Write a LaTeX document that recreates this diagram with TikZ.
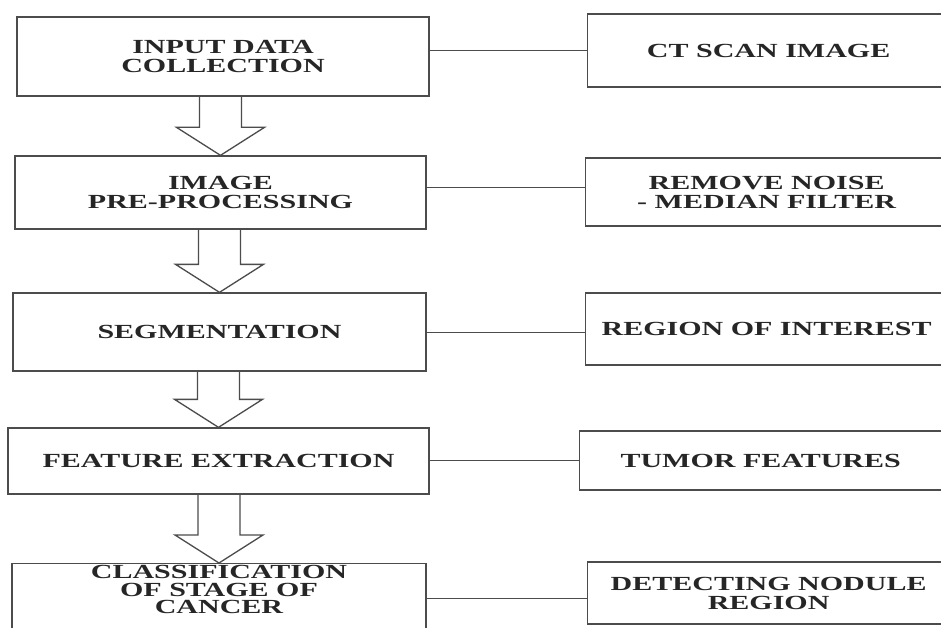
\documentclass[tikz,border=0pt]{standalone}
\usepackage{fontspec}
\newfontfamily\flowfont{Liberation Serif}[FakeStretch=1.5]
\usetikzlibrary{calc}

% hollow block arrow from one box down to the next
\newcommand{\flowarrow}[2]{%
  \draw[hollow] ($(#1.south -| #2.north)+(-21,0)$) -- ($(#2.north)+(-21,-28)$)
    -- ($(#2.north)+(-44,-28)$) -- (#2.north) -- ($(#2.north)+(44,-28)$)
    -- ($(#2.north)+(21,-28)$) -- ($(#1.south -| #2.north)+(21,0)$);}

\begin{document}
\begin{tikzpicture}
	[x=1pt, y=-1pt, line width=1.3pt,
	 stepbox/.style = {draw=black!70, text=black!85, align=center, inner sep=0pt,
	   font=\flowfont\bfseries\fontsize{20}{19}\selectfont},
	 sidebox/.style = {stepbox, anchor=west, minimum width=362pt},
	 hollow/.style = {draw=black!70, line join=miter},
	 link/.style = {draw=black!70, line width=1pt}]
	\clip (0,0) rectangle (941,628);
	\fill[white] (0,0) rectangle (941,628);
	% main steps
	\node[stepbox, minimum width=412pt, minimum height=79pt] (input) at (223,56.5) {INPUT DATA\\COLLECTION};
	\node[stepbox, minimum width=411pt, minimum height=73pt] (pre) at (220.5,192.5) {IMAGE\\PRE-PROCESSING};
	\node[stepbox, minimum width=413pt, minimum height=78pt] (seg) at (219.5,332) {SEGMENTATION};
	\node[stepbox, minimum width=421pt, minimum height=66pt] (feat) at (218.5,461) {FEATURE EXTRACTION};
	\node[stepbox, minimum width=414pt, text height=50pt, text depth=40pt, anchor=north,
	  font=\flowfont\bfseries\fontsize{20}{17.5}\selectfont] (cls) at (219,563) {CLASSIFICATION\\OF STAGE OF\\CANCER};
	% side notes
	\node[sidebox, minimum height=73pt] (ct) at (587,50.5) {CT SCAN IMAGE};
	\node[sidebox, minimum height=68pt] (noise) at (585,192) {REMOVE NOISE\\- MEDIAN FILTER};
	\node[sidebox, minimum height=72pt] (roi) at (585,329) {REGION OF INTEREST};
	\node[sidebox, minimum height=59pt] (tumor) at (579,460.5) {TUMOR FEATURES};
	\node[sidebox, minimum height=62pt] (nodule) at (587,593) {DETECTING NODULE\\REGION};
	\draw[link] (input.east |- ct) -- (ct.west);
	\draw[link] ([yshift=4pt]pre.east |- noise) -- ([yshift=4pt]noise.west);
	\draw[link] ([yshift=-3pt]seg.east |- roi) -- ([yshift=-3pt]roi.west);
	\draw[link] (feat.east |- tumor) -- (tumor.west);
	\draw[link] ([yshift=-5pt]cls.east |- nodule) -- ([yshift=-5pt]nodule.west);
	% arrows between steps
	\flowarrow{input}{pre}
	\flowarrow{pre}{seg}
	\flowarrow{seg}{feat}
	\flowarrow{feat}{cls}
\end{tikzpicture}
\end{document}
